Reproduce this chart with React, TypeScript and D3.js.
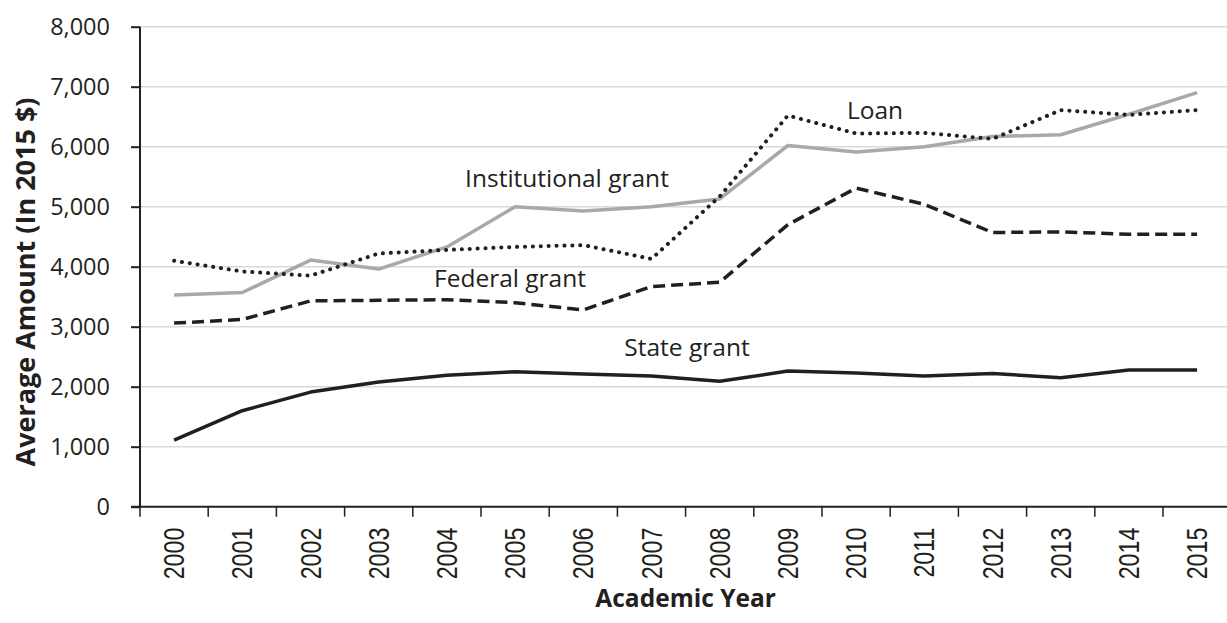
import React, { useEffect, useRef } from 'react';
import * as d3 from 'd3';

// academic years on the x axis
const years = [
  '2000', '2001', '2002', '2003', '2004', '2005', '2006', '2007',
  '2008', '2009', '2010', '2011', '2012', '2013', '2014', '2015',
];

// average amount, in 2015 dollars
const loan = [4100, 3920, 3850, 4220, 4280, 4330, 4360, 4130, 5170, 6520, 6220, 6230, 6130, 6610, 6530, 6610];
const institutionalGrant = [3530, 3570, 4110, 3960, 4330, 5000, 4930, 5000, 5130, 6020, 5910, 6000, 6170, 6200, 6540, 6900];
const federalGrant = [3060, 3120, 3430, 3440, 3450, 3400, 3280, 3670, 3740, 4700, 5310, 5040, 4570, 4580, 4540, 4540];
const stateGrant = [1110, 1600, 1910, 2080, 2190, 2250, 2210, 2180, 2090, 2260, 2230, 2180, 2220, 2150, 2280, 2280];

const yTicks = [0, 1000, 2000, 3000, 4000, 5000, 6000, 7000, 8000];

const INK = '#231f20';

const App: React.FC = () => {
  const ref = useRef<SVGSVGElement | null>(null);

  useEffect(() => {
    const width = 1227;
    const height = 623;
    const margin = { top: 26.7, left: 140, bottom: 116.3 };
    const bandStep = 68.2;

    const svg = d3.select(ref.current);
    svg.selectAll('*').remove();
    svg.attr('width', width).attr('height', height);

    const x = d3.scaleBand<string>()
      .domain(years)
      .range([margin.left, margin.left + bandStep * years.length])
      .padding(0);

    const y = d3.scaleLinear()
      .domain([0, 8000])
      .range([height - margin.bottom, margin.top]);

    const x0 = margin.left;
    const x1 = margin.left + bandStep * years.length;

    // gridlines
    svg.append('g')
      .selectAll('line')
      .data(yTicks.filter((t) => t > 0))
      .enter()
      .append('line')
      .attr('x1', x0)
      .attr('x2', x1)
      .attr('y1', (d) => y(d))
      .attr('y2', (d) => y(d))
      .attr('stroke', '#d9d9d9')
      .attr('stroke-width', 1.5);

    // y axis
    const yAxis = svg.append('g')
      .attr('transform', `translate(${x0},0)`)
      .call(d3.axisLeft(y).tickValues(yTicks).tickSize(9).tickPadding(21).tickFormat(d3.format(',')));
    yAxis.select('.domain').attr('stroke', INK).attr('stroke-width', 2).attr('d', `M0,${y(8000)}V${y(0)}`);
    yAxis.selectAll('.tick line').attr('stroke', INK).attr('stroke-width', 2);
    yAxis.selectAll('.tick text')
      .attr('fill', INK)
      .style('font-family', '"Open Sans", sans-serif')
      .style('font-size', '23.5px');

    // x axis, ticks sit between years
    const xAxis = svg.append('g').attr('transform', `translate(0,${y(0)})`);
    xAxis.append('line')
      .attr('x1', x0 - 9)
      .attr('x2', x1)
      .attr('stroke', INK)
      .attr('stroke-width', 2);
    xAxis.selectAll('.xtick')
      .data(years)
      .enter()
      .append('line')
      .attr('class', 'xtick')
      .attr('x1', (d) => x(d)!)
      .attr('x2', (d) => x(d)!)
      .attr('y1', 0)
      .attr('y2', 10)
      .attr('stroke', INK)
      .attr('stroke-width', 1.5);
    // narrow sans labels, squeezed along the reading direction
    xAxis.selectAll('.xlabel')
      .data(years)
      .enter()
      .append('text')
      .attr('class', 'xlabel')
      .attr('transform', (d) => `translate(${x(d)! + x.bandwidth() / 2},21) rotate(-90) scale(0.8,1)`)
      .attr('text-anchor', 'end')
      .attr('dy', '0.35em')
      .attr('fill', INK)
      .style('font-family', '"Liberation Sans", Arial, sans-serif')
      .style('font-size', '29px')
      .text((d) => d);

    // axis titles
    svg.append('text')
      .attr('transform', `translate(35,282) rotate(-90)`)
      .attr('text-anchor', 'middle')
      .attr('fill', INK)
      .style('font-family', '"Open Sans", sans-serif')
      .style('font-weight', 700)
      .style('font-size', '27px')
      .text('Average Amount (In 2015 $)');

    svg.append('text')
      .attr('x', (x0 + x1) / 2)
      .attr('y', 607)
      .attr('text-anchor', 'middle')
      .attr('fill', INK)
      .style('font-family', '"Open Sans", sans-serif')
      .style('font-weight', 700)
      .style('font-size', '24.5px')
      .text('Academic Year');

    // series
    const line = d3.line<number>()
      .x((_, i) => x(years[i])! + x.bandwidth() / 2)
      .y((d) => y(d));

    const series = [
      { values: institutionalGrant, color: '#a7a9ac', dash: null, cap: 'butt' },
      { values: loan, color: INK, dash: '0.1 7.8', cap: 'round' },
      { values: federalGrant, color: INK, dash: '12 6', cap: 'butt' },
      { values: stateGrant, color: INK, dash: null, cap: 'butt' },
    ];

    svg.append('g')
      .selectAll('path')
      .data(series)
      .enter()
      .append('path')
      .attr('d', (d) => line(d.values))
      .attr('fill', 'none')
      .attr('stroke', (d) => d.color)
      .attr('stroke-width', (d) => (d.cap === 'round' ? 4 : 3.5))
      .attr('stroke-linecap', (d) => d.cap)
      .attr('stroke-linejoin', 'round')
      .attr('stroke-dasharray', (d) => d.dash);

    // series labels
    const labels = [
      { text: 'Loan', cx: 875, value: 6460 },
      { text: 'Institutional grant', cx: 567, value: 5330 },
      { text: 'Federal grant', cx: 510, value: 3660 },
      { text: 'State grant', cx: 687, value: 2510 },
    ];
    svg.append('g')
      .selectAll('text')
      .data(labels)
      .enter()
      .append('text')
      .attr('x', (d) => d.cx)
      .attr('y', (d) => y(d.value))
      .attr('text-anchor', 'middle')
      .attr('fill', INK)
      .style('font-family', '"Open Sans", sans-serif')
      .style('font-size', '24.5px')
      .text((d) => d.text);
  }, []);

  return (
    <div style={{ position: 'absolute', left: 0, top: 0, width: 1227, height: 623, overflow: 'hidden' }}>
      <svg ref={ref} style={{ display: 'block' }}></svg>
    </div>
  );
};

export default App;
